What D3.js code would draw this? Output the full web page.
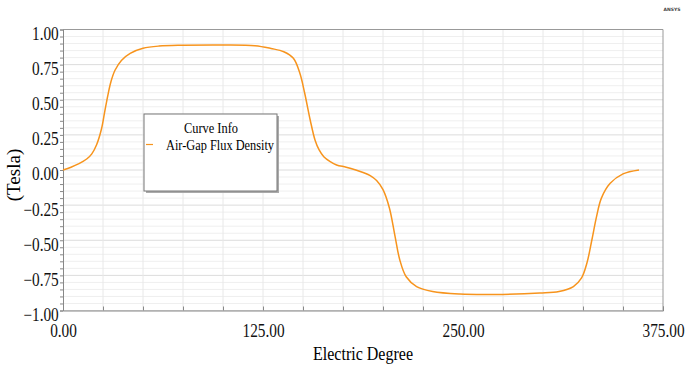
<!DOCTYPE html>
<html>
<head>
<meta charset="utf-8">
<script src="https://cdn.jsdelivr.net/npm/d3@7"></script>
<style>
  body { margin: 0; background: #fff; }
  text { font-family: "Liberation Serif", "Times New Roman", serif; }
</style>
</head>
<body>
<div id="chart"></div>
<script>
// Curve data
const degrees = [0, 5, 10, 15, 18, 21, 24, 26, 28, 30, 32.5, 36.5, 42, 50, 60, 75, 100, 120, 130, 138, 144, 148, 151, 154.5, 157.5, 160, 163, 167, 171, 177, 183, 188, 192, 196, 200, 204, 207.5, 210.5, 214.5, 221, 231, 248, 270, 298, 310, 319, 324, 327.5, 330.5, 333.5, 336.5, 342, 350, 360];
const fluxDensity = [0.0, 0.02, 0.045, 0.08, 0.115, 0.18, 0.29, 0.41, 0.53, 0.63, 0.71, 0.78, 0.83, 0.866, 0.882, 0.888, 0.89, 0.885, 0.865, 0.842, 0.795, 0.69, 0.55, 0.356, 0.214, 0.145, 0.095, 0.06, 0.036, 0.02, 0.0, -0.02, -0.04, -0.075, -0.14, -0.27, -0.47, -0.64, -0.76, -0.83, -0.865, -0.883, -0.886, -0.876, -0.865, -0.83, -0.77, -0.66, -0.5, -0.33, -0.2, -0.095, -0.028, 0.0];
const xTicks = [0, 125, 250, 375];
const yTicks = [-1, -0.75, -0.5, -0.25, 0, 0.25, 0.5, 0.75, 1];
const seriesName = "Air-Gap Flux Density";

const width = 687, height = 366;
const data = degrees.map((d, i) => ({ x: d, y: fluxDensity[i] }));

const svg = d3.select("#chart").append("svg")
  .attr("width", width)
  .attr("height", height);

// Scales
const x = d3.scaleLinear().domain([0, 375]).range([63, 663]);
const y = d3.scaleLinear().domain([-1, 1]).range([310.5, 29.5]);

// Grid
const minorY = d3.range(-1, 1.0001, 0.05);
svg.append("g").selectAll("line")
  .data(minorY)
  .enter().append("line")
  .attr("x1", x(0)).attr("x2", x(375))
  .attr("y1", d => y(d)).attr("y2", d => y(d))
  .attr("stroke", (d, i) => i % 5 === 0 ? "#dcdcdc" : "#efefef")
  .attr("stroke-width", 1);

svg.append("g").selectAll("line")
  .data(d3.range(25, 375, 25))
  .enter().append("line")
  .attr("y1", y(1)).attr("y2", y(-1))
  .attr("x1", d => x(d)).attr("x2", d => x(d))
  .attr("stroke", "#e8e8e8")
  .attr("stroke-width", 1);

// Frame top/right
svg.append("line")
  .attr("x1", x(0)).attr("x2", x(375)).attr("y1", y(1)).attr("y2", y(1))
  .attr("stroke", "#999");
svg.append("line")
  .attr("x1", x(375)).attr("x2", x(375)).attr("y1", y(1)).attr("y2", y(-1))
  .attr("stroke", "#999");

// Axes
const xAxis = svg.append("g")
  .attr("transform", `translate(0,${y(-1)})`)
  .call(d3.axisBottom(x).tickValues(d3.range(0, 376, 25)).tickSize(-4).tickFormat(""));
xAxis.select(".domain").attr("stroke", "#888");
xAxis.selectAll(".tick line").attr("stroke", "#888");

svg.append("g")
  .attr("transform", `translate(0,${y(-1)})`)
  .call(d3.axisBottom(x).tickValues(xTicks).tickSize(0).tickPadding(14).tickFormat(d3.format(".2f")))
  .call(g => g.select(".domain").remove())
  .selectAll("text")
  .attr("fill", "#111")
  .style("font-family", "Liberation Serif, serif")
  .style("font-size", "18px")
  .attr("transform", "scale(0.85,1)");

const yMinor = svg.append("g")
  .attr("transform", `translate(${x(0)},0)`)
  .call(d3.axisLeft(y).tickValues(minorY).tickSize(3).tickFormat(""));
yMinor.select(".domain").attr("stroke", "#888");
yMinor.selectAll(".tick line").attr("stroke", "#888");

svg.append("g")
  .attr("transform", `translate(${x(0)},0)`)
  .call(d3.axisLeft(y).tickValues(yTicks).tickSize(0).tickPadding(5).tickFormat(d3.format(".2f")))
  .call(g => g.select(".domain").remove())
  .selectAll("text")
  .attr("fill", "#111")
  .attr("dy", "0.55em")
  .style("font-family", "Liberation Serif, serif")
  .style("font-size", "18px")
  .attr("transform", "scale(0.85,1)");

// Curve
const line = d3.line()
  .x(d => x(d.x))
  .y(d => y(d.y))
  .curve(d3.curveCatmullRom.alpha(0.5));

svg.append("path")
  .datum(data)
  .attr("fill", "none")
  .attr("stroke", "#f7941d")
  .attr("stroke-width", 1.5)
  .attr("d", line);

// Legend
const legend = svg.append("g");
legend.append("rect")
  .attr("x", 146).attr("y", 116).attr("width", 133).attr("height", 77)
  .attr("fill", "#aaa");
legend.append("rect")
  .attr("x", 144).attr("y", 114).attr("width", 133).attr("height", 77)
  .attr("fill", "#fff").attr("stroke", "#777");
legend.append("text")
  .attr("x", 184).attr("y", 133)
  .attr("textLength", 54).attr("lengthAdjust", "spacingAndGlyphs")
  .style("font-size", "14px")
  .text("Curve Info");
legend.append("line")
  .attr("x1", 146).attr("x2", 153).attr("y1", 144.5).attr("y2", 144.5)
  .attr("stroke", "#f7941d").attr("stroke-width", 1.2);
legend.append("text")
  .attr("x", 166).attr("y", 150)
  .attr("textLength", 108).attr("lengthAdjust", "spacingAndGlyphs")
  .style("font-size", "14px")
  .text(seriesName);

// Axis titles
svg.append("text")
  .attr("x", 313).attr("y", 360)
  .attr("textLength", 100).attr("lengthAdjust", "spacingAndGlyphs")
  .style("font-size", "19px")
  .text("Electric Degree");

svg.append("text")
  .attr("transform", "translate(20,175) rotate(-90)")
  .attr("text-anchor", "middle")
  .style("font-size", "19px")
  .text("(Tesla)");

svg.append("text")
  .attr("x", 672).attr("y", 11)
  .attr("text-anchor", "middle")
  .style("font-family", "DejaVu Sans, sans-serif")
  .style("font-size", "4.5px")
  .style("font-weight", "bold")
  .attr("fill", "#444")
  .text("ANSYS");
</script>
</body>
</html>
